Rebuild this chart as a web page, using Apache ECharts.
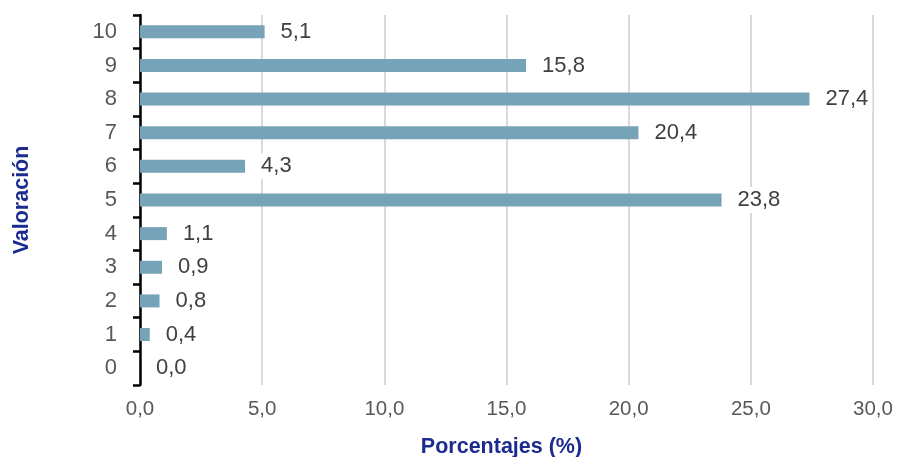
<!DOCTYPE html>
<html><head><meta charset="utf-8">
<script src="https://cdn.jsdelivr.net/npm/echarts@6/dist/echarts.min.js"></script>
<style>html,body{margin:0;padding:0;background:#fff}#c{width:899px;height:457px}</style>
</head><body><div id="c"></div>
<script>
const categories = ['0','1','2','3','4','5','6','7','8','9','10'];
const values = [0.0, 0.4, 0.8, 0.9, 1.1, 23.8, 4.3, 20.4, 27.4, 15.8, 5.1];
const xTicks = [0, 5, 10, 15, 20, 25, 30];
const fmt = v => Number(v).toFixed(1).replace('.', ',');
const chart = echarts.init(document.getElementById('c'));
chart.setOption({
  animation: false,
  grid: {left: 140, right: 26, top: 15, bottom: 72, containLabel: false, outerBoundsMode: 'none'},
  xAxis: {
    type: 'value', min: xTicks[0], max: xTicks[xTicks.length-1], interval: 5,
    name: 'Porcentajes (%)', nameLocation: 'middle', nameGap: 51,
    nameTextStyle: {color: '#1b2b8f', fontWeight: 'bold', fontSize: 21.5, fontFamily: 'Liberation Sans', padding: [0, 10, 0, 0]},
    axisLine: {show: false}, axisTick: {show: false},
    axisLabel: {formatter: fmt, color: '#595959', fontSize: 20.5, fontFamily: 'Liberation Sans', margin: 14},
    splitLine: {show: true, lineStyle: {color: '#d9d9d9', width: 2}}
  },
  yAxis: {
    type: 'category', data: categories,
    name: 'Valoración', nameLocation: 'middle', nameGap: 107,
    nameTextStyle: {color: '#1b2b8f', fontWeight: 'bold', fontSize: 21.5, fontFamily: 'Liberation Sans'},
    axisLine: {show: true, lineStyle: {color: '#000', width: 2.5}},
    axisTick: {show: true, inside: false, length: 7, lineStyle: {color: '#000', width: 2.5}},
    axisLabel: {color: '#595959', fontSize: 22, fontFamily: 'Liberation Sans', margin: 23},
    splitLine: {show: false}
  },
  series: [{
    type: 'bar', data: values, barWidth: 13,
    itemStyle: {color: '#77a3b9'},
    label: {show: true, position: 'right', distance: 12, formatter: p => fmt(p.value),
      color: '#404040', fontSize: 22, fontFamily: 'Liberation Sans',
      backgroundColor: '#fff', padding: [2, 4]}
  }]
});
</script></body></html>
